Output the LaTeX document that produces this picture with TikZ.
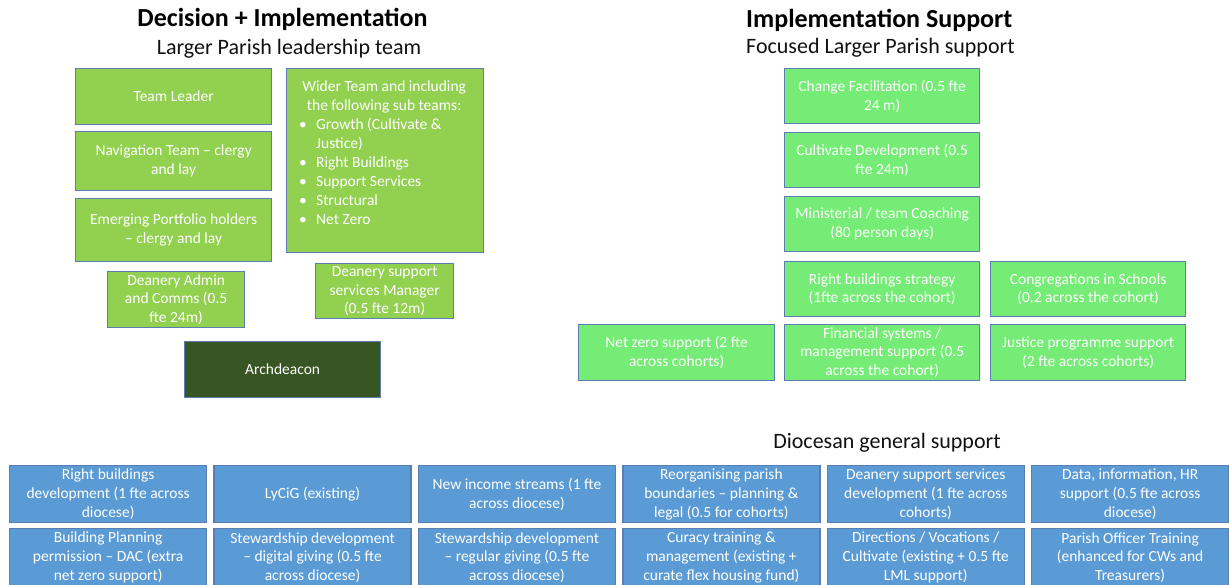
\documentclass[tikz,border=0pt]{standalone}
\usepackage{fontspec}
\setmainfont{Carlito}
\definecolor{lgreen}{HTML}{92D050}
\definecolor{bgreen}{HTML}{75EC75}
\definecolor{dgreen}{HTML}{375623}
\definecolor{lblue}{HTML}{5B9BD5}
\definecolor{bordercol}{HTML}{5A7DB3}
\definecolor{titlecol}{HTML}{111111}
\tikzset{
  box/.style={draw=bordercol, line width=1.3pt, text=white, align=center,
    font=\fontsize{15.5}{18.9}\selectfont, inner sep=1pt, anchor=north west},
  lgbox/.style={box, fill=lgreen},
  bgbox/.style={box, fill=bgreen},
  dgbox/.style={box, fill=dgreen},
  bluebox/.style={box, fill=lblue, minimum width=197pt},
  maintitle/.style={font=\fontsize{26}{30}\bfseries\selectfont, text=black, inner sep=0pt},
  subtitle/.style={font=\fontsize{22}{26}\selectfont, text=titlecol, inner sep=0pt},
}
\begin{document}
\begin{tikzpicture}[x=1pt,y=-1pt]
\clip (0,0) rectangle (1229,585);
\useasboundingbox (0,0) rectangle (1229,585);

% titles
\node[maintitle, anchor=base] (t1) at (282.5,27) {Decision + Implementation};
\node[subtitle, anchor=base] (s1) at (289,55) {Larger Parish leadership team};
\node[maintitle, anchor=base west] (t2) at (746,28) {Implementation Support};
\node[subtitle, anchor=base west] (s2) at (746,54) {Focused Larger Parish support};
\node[subtitle, anchor=base] (s3) at (887,448) {Diocesan general support};

% left group
\node[lgbox, minimum width=196pt, minimum height=56pt] (tl) at (75,68) {Team Leader};
\node[lgbox, minimum width=196pt, minimum height=59pt] (nav) at (75,131) {Navigation Team -- clergy\\and lay};
\node[lgbox, minimum width=196pt, minimum height=63pt] (emg) at (75,198) {Emerging Portfolio holders\\-- clergy and lay};
\node[lgbox, minimum width=197pt, minimum height=184pt] (wider) at (286,68) {};
\node[anchor=north west, inner sep=0pt, text=white, font=\fontsize{15.5}{18.9}\selectfont] (widertext) at (296,81) {%
\begin{minipage}{176pt}\centering Wider Team and including\\the following sub teams:\par\raggedright
\hspace*{3pt}\makebox[17pt][l]{\textbullet}Growth (Cultivate \&\par
\hspace*{20pt}Justice)\par
\hspace*{3pt}\makebox[17pt][l]{\textbullet}Right Buildings\par
\hspace*{3pt}\makebox[17pt][l]{\textbullet}Support Services\par
\hspace*{3pt}\makebox[17pt][l]{\textbullet}Structural\par
\hspace*{3pt}\makebox[17pt][l]{\textbullet}Net Zero\par
\end{minipage}};
\node[lgbox, minimum width=137pt, minimum height=56pt] (dac) at (107,271) {Deanery Admin\\and Comms (0.5\\fte 24m)};
\node[lgbox, minimum width=138pt, minimum height=55pt] (dssm) at (315,263) {Deanery support\\services Manager\\(0.5 fte 12m)};
\node[dgbox, minimum width=196pt, minimum height=56pt] (arch) at (184,341) {Archdeacon};

% right group
\node[bgbox, minimum width=195pt, minimum height=55pt] (cf) at (784,68) {Change Facilitation (0.5 fte\\24 m)};
\node[bgbox, minimum width=195pt, minimum height=55pt] (cd) at (784,132) {Cultivate Development (0.5\\fte 24m)};
\node[bgbox, minimum width=195pt, minimum height=55pt] (mtc) at (784,196) {Ministerial / team Coaching\\(80 person days)};
\node[bgbox, minimum width=195pt, minimum height=55pt] (rbs) at (784,261) {Right buildings strategy\\(1fte across the cohort)};
\node[bgbox, minimum width=195pt, minimum height=55pt] (cis) at (990,261) {Congregations in Schools\\(0.2 across the cohort)};
\node[bgbox, minimum width=196pt, minimum height=56pt] (nzs) at (578,324) {Net zero support (2 fte\\across cohorts)};
\node[bgbox, minimum width=195pt, minimum height=56pt] (fsm) at (784,324) {Financial systems /\\management support (0.5\\across the cohort)};
\node[bgbox, minimum width=195pt, minimum height=56pt] (jps) at (990,324) {Justice programme support\\(2 fte across cohorts)};

% bottom rows
\node[bluebox, minimum height=57pt] (b11) at (9,465) {Right buildings\\development (1 fte across\\diocese)};
\node[bluebox, minimum height=57pt] (b12) at (213.4,465) {LyCiG (existing)};
\node[bluebox, minimum height=57pt] (b13) at (417.8,465) {New income streams (1 fte\\across diocese)};
\node[bluebox, minimum height=57pt] (b14) at (622.2,465) {Reorganising parish\\boundaries -- planning \&\\legal (0.5 for cohorts)};
\node[bluebox, minimum height=57pt] (b15) at (826.6,465) {Deanery support services\\development (1 fte across\\cohorts)};
\node[bluebox, minimum height=57pt] (b16) at (1031,465) {Data, information, HR\\support (0.5 fte across\\diocese)};

\node[bluebox, minimum height=58pt] (b21) at (9,528) {Building Planning\\permission -- DAC (extra\\net zero support)};
\node[bluebox, minimum height=58pt] (b22) at (213.4,528) {Stewardship development\\-- digital giving (0.5 fte\\across diocese)};
\node[bluebox, minimum height=58pt] (b23) at (417.8,528) {Stewardship development\\-- regular giving (0.5 fte\\across diocese)};
\node[bluebox, minimum height=58pt] (b24) at (622.2,528) {Curacy training \&\\management (existing +\\curate flex housing fund)};
\node[bluebox, minimum height=58pt] (b25) at (826.6,528) {Directions / Vocations /\\Cultivate (existing + 0.5 fte\\LML support)};
\node[bluebox, minimum height=58pt] (b26) at (1031,528) {Parish Officer Training\\(enhanced for CWs and\\Treasurers)};
\end{tikzpicture}
\end{document}
